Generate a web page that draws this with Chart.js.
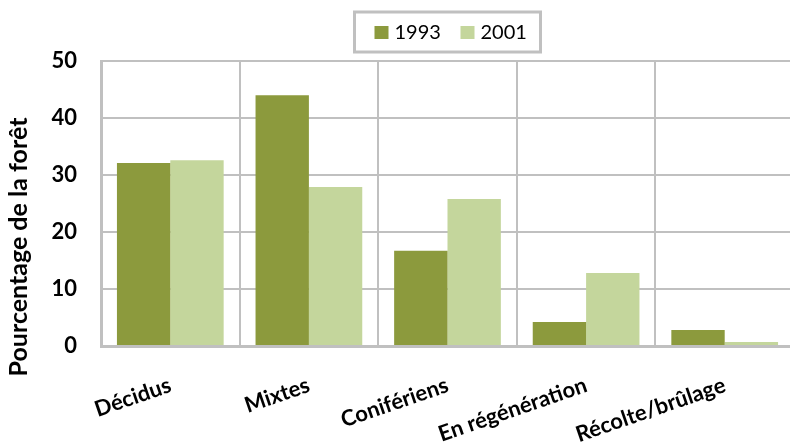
<!DOCTYPE html>
<html>
<head>
<meta charset="utf-8">
<script src="https://cdn.jsdelivr.net/npm/chart.js@4.4.1/dist/chart.umd.min.js"></script>
<style>
	html, body { margin: 0; padding: 0; background: #fff; overflow: hidden; }
	canvas { display: block; }
</style>
</head>
<body>
<canvas id="forestChart" width="800" height="444"></canvas>
<script>
// Data
const categories = ["Décidus", "Mixtes", "Conifériens", "En régénération", "Récolte/brûlage"];
const seriesLabels = ["1993", "2001"];
const values1993 = [32.1, 44.0, 16.7, 4.2, 2.8];
const values2001 = [32.6, 27.9, 25.8, 12.8, 0.7];
const yTickValues = [0, 10, 20, 30, 40, 50];
const yTitle = "Pourcentage de la forêt";

const colors = ["#8c9a3d", "#c4d69c"];
const gridColor = "#c0c0c0";
const fontFamily = "Lato, 'Open Sans', sans-serif";

// Legend with a grey frame, centred over the plot area
const framedLegend = {
	id: "framedLegend",
	afterDraw(chart) {
		const ctx = chart.ctx;
		const area = chart.chartArea;
		const boxW = 186, boxH = 40, top = 12;
		const left = (area.left + area.right) / 2 - boxW / 2;
		ctx.save();
		ctx.strokeStyle = gridColor;
		ctx.lineWidth = 3;
		ctx.strokeRect(left, top, boxW, boxH);
		ctx.font = "20px " + fontFamily;
		ctx.textBaseline = "middle";
		ctx.textAlign = "left";
		let x = left + 20;
		chart.data.datasets.forEach((ds) => {
			ctx.fillStyle = ds.backgroundColor;
			ctx.fillRect(x, top + 14, 14, 13);
			ctx.fillStyle = "#000";
			ctx.fillText(ds.label, x + 20, top + boxH / 2 + 1);
			x += 86;
		});
		ctx.restore();
	},
};

// Rotated y title, placed a little below the plot centre like the original
const yTitlePlugin = {
	id: "yTitlePlugin",
	afterDraw(chart) {
		const ctx = chart.ctx;
		ctx.save();
		ctx.translate(19, 247);
		ctx.rotate(-Math.PI / 2);
		ctx.fillStyle = "#000";
		ctx.font = "bold 25px " + fontFamily;
		ctx.textAlign = "center";
		ctx.textBaseline = "middle";
		ctx.fillText(yTitle, 0, 0);
		ctx.restore();
	},
};

const ctx = document.getElementById("forestChart").getContext("2d");

const forestChart = new Chart(ctx, {
	type: "bar",
	data: {
		labels: categories,
		datasets: [
			{ label: seriesLabels[0], data: values1993, backgroundColor: colors[0] },
			{ label: seriesLabels[1], data: values2001, backgroundColor: colors[1] },
		],
	},
	options: {
		responsive: false,
		animation: false,
		layout: { padding: { top: 61, right: 6, left: 0, bottom: 0 } },
		datasets: {
			bar: { categoryPercentage: 0.77, barPercentage: 1.0 },
		},
		plugins: {
			legend: { display: false },
			tooltip: { enabled: false },
		},
		scales: {
			x: {
				ticks: {
					minRotation: 19,
					maxRotation: 19,
					padding: 26,
					color: "#000",
					font: { family: fontFamily, size: 22, weight: "bold" },
				},
				grid: { color: gridColor, lineWidth: 2, drawTicks: false, offset: true },
				border: { color: gridColor, width: 3 },
				afterFit: (scale) => { scale.height = 98; },
			},
			y: {
				min: 0,
				max: 50,
				afterBuildTicks: (scale) => {
					scale.ticks = yTickValues.map((v) => ({ value: v }));
				},
				ticks: {
					padding: 24,
					color: "#000",
					font: { family: fontFamily, size: 22, weight: "bold" },
				},
				grid: { color: gridColor, lineWidth: 2, drawTicks: false },
				border: { color: gridColor, width: 3 },
				afterFit: (scale) => { scale.width = 101; },
			},
		},
	},
	plugins: [framedLegend, yTitlePlugin],
});
</script>
</body>
</html>
